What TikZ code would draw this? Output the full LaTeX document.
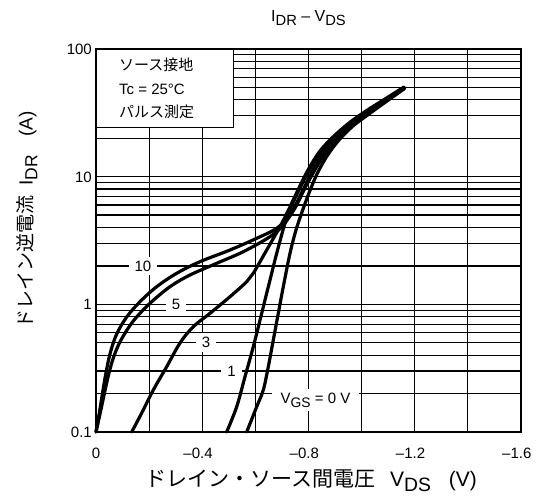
\documentclass[tikz,border=0pt]{standalone}
\usepackage{fontspec}
\usepackage{graphicx}
\setmainfont{Liberation Sans}
\newfontfamily\jp{Noto Sans CJK JP}
\newcommand{\lowsub}[1]{\raisebox{-0.25em}{\scalebox{0.92}{#1}}}
\begin{document}
\begin{tikzpicture}[x=1pt,y=-1pt,
  gridline/.style={line width=1.2pt},
  frameline/.style={line width=2pt},
  curve/.style={line width=3.2pt, line cap=round, line join=round, smooth, tension=0.55},
  ticklbl/.style={font=\fontsize{15}{15}\selectfont, inner sep=1pt},
  curvelbl/.style={fill=white, inner xsep=6pt, inner ysep=4pt, font=\fontsize{15}{15}\selectfont},
  legendtxt/.style={anchor=west, inner sep=0pt, font=\fontsize{15}{15}\selectfont},
  axislbl/.style={inner sep=0pt}]
\useasboundingbox (0,0) rectangle (544,497);
% grid
\foreach \k in {1,...,7}
  \draw[gridline] ({96+53.125*\k},49) -- ({96+53.125*\k},432);
\foreach \d in {0,1,2}
  \foreach \m in {2,...,9}
    \draw[gridline] (96,{432-127.67*(\d+log10(\m))}) -- (521,{432-127.67*(\d+log10(\m))});
\foreach \d in {1,2}
  \draw[gridline] (96,{432-127.67*\d}) -- (521,{432-127.67*\d});
% frame
\draw[frameline] (96,49) rectangle (521,432);
% legend box
\node[draw, fill=white, line width=1.2pt, minimum width=137pt, minimum height=78pt, anchor=north west, inner sep=0pt] (legend) at (96,49) {};
\node[legendtxt] (l1) at (119,65) {\jp ソース接地};
\node[legendtxt] (l2) at (119,89) {Tc = 25°C};
\node[legendtxt] (l3) at (119,112) {\jp パルス測定};
% title
\node[axislbl, font=\fontsize{16}{16}\selectfont] (title) at (308.5,18) {I\lowsub{DR} – V\lowsub{DS}};
% y ticks
\node[ticklbl, anchor=east] (y100) at (93,49) {100};
\node[ticklbl, anchor=east] (y10) at (93,177) {10};
\node[ticklbl, anchor=east] (y1) at (93,304.3) {1};
\node[ticklbl, anchor=east] (y01) at (93,432) {0.1};
% x ticks
\node[ticklbl] (x0) at (96,453) {0};
\node[ticklbl] (x04) at (202.25,453) {\llap{–}0.4};
\node[ticklbl] (x08) at (308.5,453) {\llap{–}0.8};
\node[ticklbl] (x12) at (414.75,453) {\llap{–}1.2};
\node[ticklbl] (x16) at (521,453) {\llap{–}1.6};
% axis labels
\node[axislbl, font=\fontsize{21}{21}\selectfont] (xlabel) at (311,481) {{\jp ドレイン・ソース間電圧}\hspace{15pt}V\lowsub{DS}\hspace{18pt}(V)};
\node[axislbl, rotate=90, font=\fontsize{19}{19}\selectfont] (ylabel) at (27,220) {{\jp ドレイン逆電流}\hspace{10pt}I\lowsub{DR}\hspace{18pt}(A)};
% curve labels
\node[curvelbl] (c10) at (143,265.9) {10};
\node[curvelbl] (c5) at (176,304.3) {5};
\node[curvelbl] (c3) at (206,342.7) {3};
\node[curvelbl] (c1) at (231.5,371.3) {1};
\node[curvelbl, inner xsep=9pt] (c0) at (315.5,400) {V\lowsub{GS} = 0 V};
% curves
\draw[curve] plot coordinates {(96,432) (99.5,412) (103,390) (106.5,370) (110.5,352) (116.7,334) (126.7,317) (140,301.7) (156.7,286.7) (176.7,273.3) (200,261.7) (230,250) (256.7,238.3) (276.7,228.3) (290,215) (302,192) (313,170) (325,152) (337,138) (352,124) (368,112) (386,100) (404,88)};
\draw[curve] plot coordinates {(96,432) (100,414) (104.5,393) (109,373) (114,356) (121,340) (133.3,321) (150,303.3) (170,286.7) (190,275) (216.7,263.3) (243.3,251.7) (270,236.7) (283.3,225) (295,208) (305,188) (316,168) (327,151) (339,137) (354,123) (370,111) (387,99) (403,89)};
\draw[curve] plot coordinates {(131.7,432) (141.7,413) (153.3,390) (166.7,366.7) (180,343) (193.3,326.7) (210,313.3) (230,296.7) (246.7,281.7) (253.3,273.3) (266.7,250) (280,226.7) (288,211) (297,192) (308,170) (320,151) (333,137) (349,123) (366,111) (385,99) (404,87)};
\draw[curve] plot coordinates {(226.7,432) (236.7,406.7) (245,376.7) (253.3,346.7) (261.7,313.3) (270,280) (276.7,253.3) (285,223.3) (292,205) (302,184) (313,164) (325,148) (338,135) (352,122) (368,111) (386,99) (405,88)};
\draw[curve] plot coordinates {(246.7,432) (256.7,406.7) (263.3,390) (268.3,366.7) (273.3,340) (278.3,313.3) (283.3,286.7) (290,253.3) (296,230) (302,212) (309,193) (317,174) (327,156) (339,140) (353,126) (369,114) (387,101) (404,89)};
\end{tikzpicture}
\end{document}
